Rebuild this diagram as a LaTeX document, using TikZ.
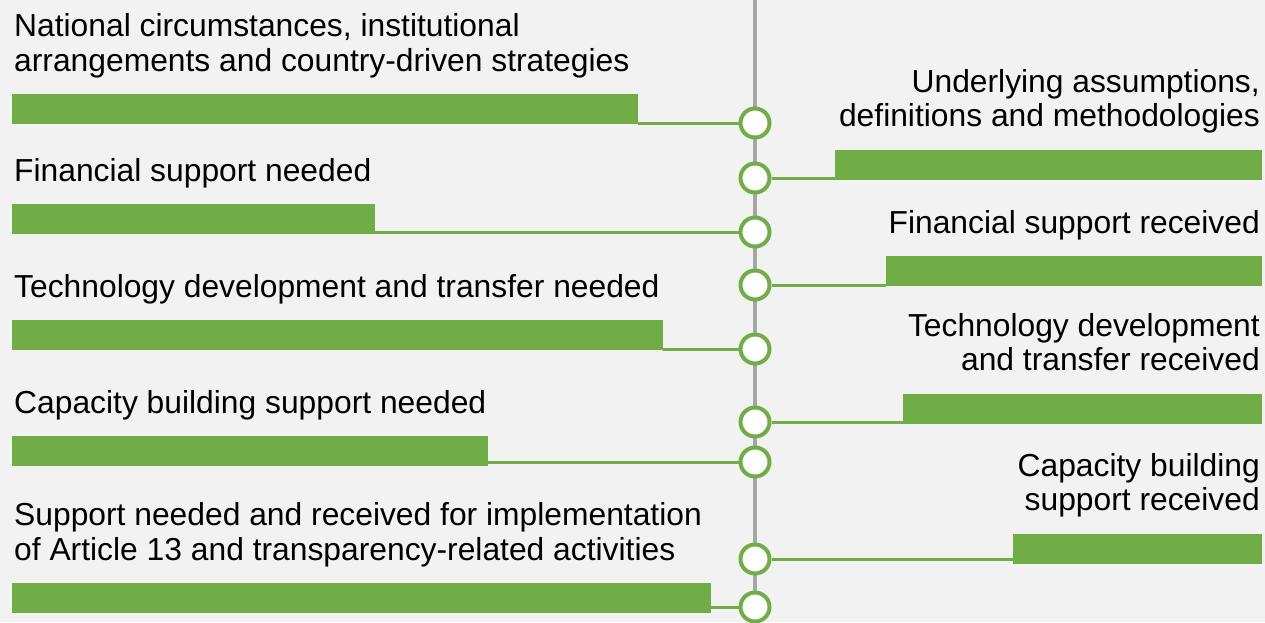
\documentclass[tikz,border=0pt]{standalone}
\usepackage{fontspec}
\setmainfont{Liberation Sans}
\definecolor{bggray}{HTML}{F2F2F2}
\definecolor{bargreen}{HTML}{70AD47}
\definecolor{axisgray}{HTML}{A6A6A6}
\begin{document}
\begin{tikzpicture}[x=1pt,y=-1pt,
  bar/.style={rectangle,fill=bargreen,draw=none,inner sep=0pt,anchor=north west,minimum height=30pt},
  dot/.style={circle,draw=bargreen,fill=white,line width=4pt,minimum size=29pt,inner sep=0pt},
  conn/.style={draw=bargreen,line width=3pt},
  axis/.style={draw=axisgray,line width=4pt},
  ltext/.style={anchor=base west,inner sep=0pt,align=left,font=\fontsize{31.8}{34.3}\selectfont},
  rtext/.style={anchor=base east,inner sep=0pt,align=right,font=\fontsize{31.8}{34.3}\selectfont}]
\useasboundingbox[fill=bggray] (0,0) rectangle (1265,622);
\coordinate (top) at (755,0);
\coordinate (bot) at (755,622);
\draw[axis] (top) -- (bot);
% left bars
\node[bar,minimum width=626pt] (b1) at (12,94) {};
\node[bar,minimum width=363pt] (b2) at (12,204) {};
\node[bar,minimum width=651pt] (b3) at (12,320) {};
\node[bar,minimum width=476pt] (b4) at (12,436) {};
\node[bar,minimum width=699pt] (b5) at (12,583) {};
% right bars
\node[bar,minimum width=427pt] (r1) at (835,150) {};
\node[bar,minimum width=376pt] (r2) at (886,256) {};
\node[bar,minimum width=359pt] (r3) at (903,394) {};
\node[bar,minimum width=249pt] (r4) at (1013,534) {};
% circles
\node[dot] (c1) at (755,123) {};
\node[dot] (d1) at (755,178) {};
\node[dot] (c2) at (755,232) {};
\node[dot] (d2) at (755,285) {};
\node[dot] (c3) at (755,349) {};
\node[dot] (d3) at (755,422) {};
\node[dot] (c4) at (755,462) {};
\node[dot] (d4) at (755,559) {};
\node[dot] (c5) at (755,607) {};
% connectors
\draw[conn] (b1.east |- c1.west) -- (c1.west);
\draw[conn] (b2.east |- c2.west) -- (c2.west);
\draw[conn] (b3.east |- c3.west) -- (c3.west);
\draw[conn] (b4.east |- c4.west) -- (c4.west);
\draw[conn] (b5.east |- c5.west) -- (c5.west);
\draw[conn] (d1.east) -- (r1.west |- d1.east);
\draw[conn] (d2.east) -- (r2.west |- d2.east);
\draw[conn] (d3.east) -- (r3.west |- d3.east);
\draw[conn] (d4.east) -- (r4.west |- d4.east);
% left texts (base anchor = last line's baseline)
\node[ltext] (t1) at (14,71) {National circumstances, institutional\\arrangements and country-driven strategies};
\node[ltext] (t2) at (14,181.5) {Financial support needed};
\node[ltext] (t3) at (14,297) {Technology development and transfer needed};
\node[ltext] (t4) at (14,413) {Capacity building support needed};
\node[ltext] (t5) at (14,560) {Support needed and received for implementation\\of Article 13 and transparency-related activities};
% right texts
\node[rtext] (s1) at (1260,126.7) {Underlying assumptions,\\definitions and methodologies};
\node[rtext] (s2) at (1260,233.3) {Financial support received};
\node[rtext] (s3) at (1260,370.7) {Technology development\\and transfer received};
\node[rtext] (s4) at (1260,510.7) {Capacity building\\support received};
\end{tikzpicture}
\end{document}
